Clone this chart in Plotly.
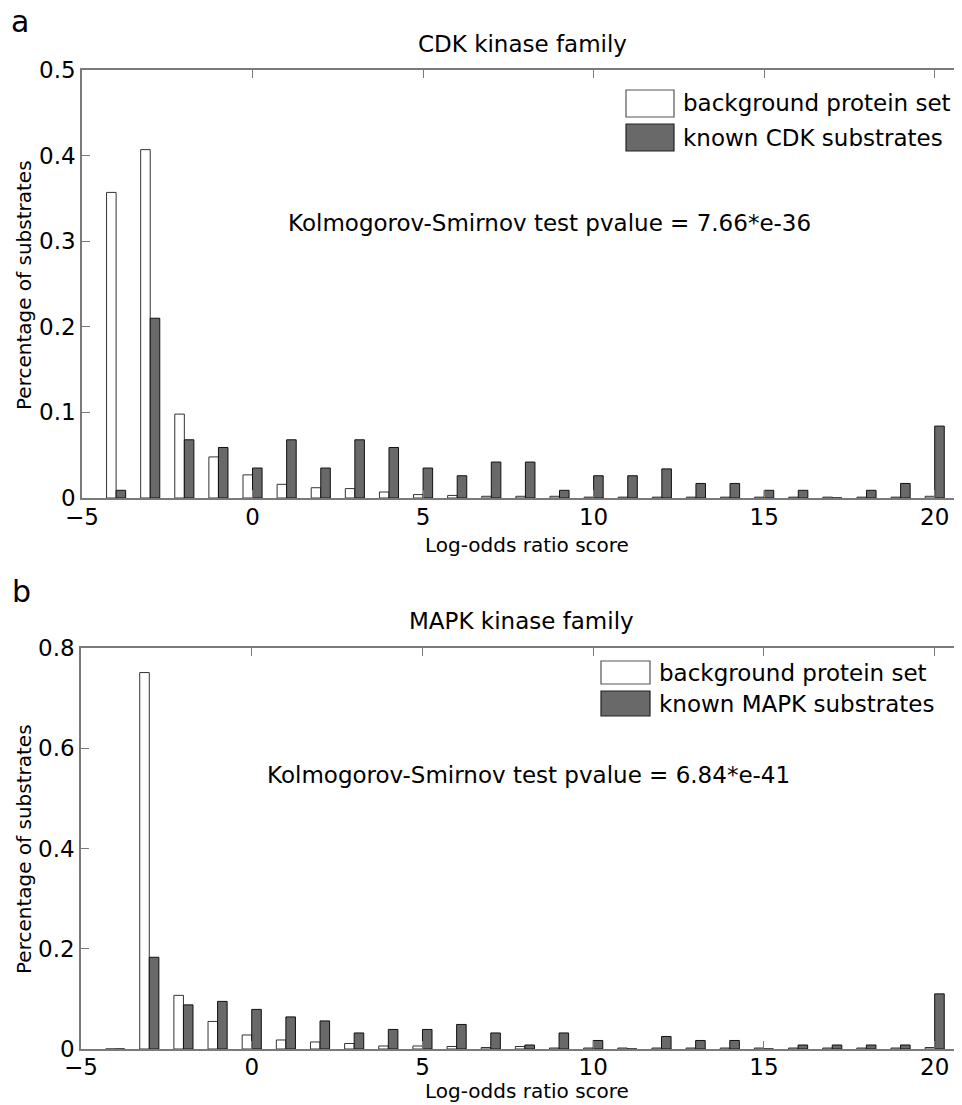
import plotly.graph_objects as go

# ---------------- data ----------------
scores = list(range(-4, 21))

cdk_background = [0.357, 0.407, 0.098, 0.048, 0.027, 0.016, 0.012, 0.011, 0.007, 0.004,
                  0.003, 0.002, 0.002, 0.002, 0.001, 0.001, 0.001, 0.001, 0.001, 0.001,
                  0.001, 0.001, 0.001, 0.001, 0.002]
cdk_known = [0.009, 0.210, 0.068, 0.059, 0.035, 0.068, 0.035, 0.068, 0.059, 0.035,
             0.026, 0.042, 0.042, 0.009, 0.026, 0.026, 0.034, 0.017, 0.017, 0.009,
             0.009, 0.0, 0.009, 0.017, 0.084]

mapk_background = [0.0, 0.751, 0.107, 0.055, 0.028, 0.018, 0.014, 0.011, 0.006, 0.006,
                   0.005, 0.003, 0.005, 0.002, 0.002, 0.002, 0.002, 0.002, 0.002, 0.002,
                   0.002, 0.002, 0.002, 0.002, 0.003]
mapk_known = [0.0, 0.183, 0.088, 0.095, 0.079, 0.064, 0.056, 0.032, 0.039, 0.039,
              0.049, 0.032, 0.008, 0.032, 0.017, 0.0, 0.025, 0.017, 0.017, 0.0,
              0.008, 0.008, 0.008, 0.008, 0.110]

x_ticks = [-5, 0, 5, 10, 15, 20]
cdk_y_ticks = [0, 0.1, 0.2, 0.3, 0.4, 0.5]
cdk_y_labels = ["0", "0.1", "0.2", "0.3", "0.4", "0.5"]
mapk_y_ticks = [0, 0.2, 0.4, 0.6, 0.8]
mapk_y_labels = ["0", "0.2", "0.4", "0.6", "0.8"]

cdk_title = "CDK kinase family"
mapk_title = "MAPK kinase family"
cdk_ks = "Kolmogorov-Smirnov test pvalue = 7.66*e-36"
mapk_ks = "Kolmogorov-Smirnov test pvalue = 6.84*e-41"
legend_bg = "background protein set"
legend_cdk = "known CDK substrates"
legend_mapk = "known MAPK substrates"
x_label = "Log-odds ratio score"
y_label = "Percentage of substrates"

# ---------------- styling / layout helpers ----------------
W, H, OFF = 954, 1097, 8
FONT = "DejaVu Sans"
DARK = "#696969"
AXC = "#7a7a7a"


def px(X):
    return (X - OFF) / W


def py(Y):
    return 1 - (Y - OFF) / H


fig = go.Figure()

fig.add_trace(go.Bar(x=scores, y=cdk_background, name=legend_bg, xaxis="x", yaxis="y",
                     marker=dict(color="white", line=dict(color="#333333", width=1)),
                     showlegend=False))
fig.add_trace(go.Bar(x=scores, y=cdk_known, name=legend_cdk, xaxis="x", yaxis="y",
                     marker=dict(color=DARK, line=dict(color="#111111", width=1)),
                     showlegend=False))
fig.add_trace(go.Bar(x=scores, y=mapk_background, name=legend_bg, xaxis="x2", yaxis="y2",
                     marker=dict(color="white", line=dict(color="#333333", width=1)),
                     showlegend=False))
fig.add_trace(go.Bar(x=scores, y=mapk_known, name=legend_mapk, xaxis="x2", yaxis="y2",
                     marker=dict(color=DARK, line=dict(color="#111111", width=1)),
                     showlegend=False))

axis_common = dict(showline=True, linecolor=AXC, linewidth=1.5, mirror="ticks",
                   ticks="inside", ticklen=8, tickcolor=AXC, tickwidth=1.2,
                   showgrid=False, zeroline=False, automargin=False,
                   tickfont=dict(family=FONT, size=23, color="black"))

fig.update_layout(
    width=W, height=H,
    margin=dict(l=0, r=0, t=0, b=0, autoexpand=False),
    paper_bgcolor="white", plot_bgcolor="white",
    barmode="group", bargap=0.44, bargroupgap=0.0,
    xaxis=dict(domain=[px(82), 1.0], range=[-5, 20.8], tickvals=x_ticks,
               anchor="y", ticklabelstandoff=-2, **axis_common),
    yaxis=dict(domain=[py(498), py(70)], range=[0, 0.5], tickvals=cdk_y_ticks,
               ticktext=cdk_y_labels, anchor="x", ticklabelstandoff=0, **axis_common),
    xaxis2=dict(domain=[px(81), 1.0], range=[-5, 20.8], tickvals=x_ticks,
                anchor="y2", ticklabelstandoff=-3, **axis_common),
    yaxis2=dict(domain=[py(1049), py(648)], range=[0, 0.8], tickvals=mapk_y_ticks,
                ticktext=mapk_y_labels, anchor="x2", ticklabelstandoff=0, **axis_common),
)


def text(X, Y, s, size, family=FONT, xanchor="center", yanchor="middle", angle=0):
    fig.add_annotation(x=px(X), y=py(Y), xref="paper", yref="paper", text=s,
                       showarrow=False, xanchor=xanchor, yanchor=yanchor, textangle=angle,
                       font=dict(family=family, size=size, color="black"))


# panel letters
text(20, 22, "a", 30)
text(21, 591, "b", 30)

# titles
text(522, 44, cdk_title, 23)
text(521, 621, mapk_title, 23)

# KS annotations
text(549, 223, cdk_ks, 23)
text(528, 775, mapk_ks, 23)

# axis labels
text(527, 545, x_label, 20)
text(527, 1091, x_label, 20)
text(24, 285, y_label, 20, angle=-90)
text(24, 849, y_label, 20, angle=-90)


# custom legends
def legend(x0, x1, rows, labels):
    fills = ["white", DARK]
    lines = ["#555555", "#222222"]
    for (y0, y1), lab, f, lc in zip(rows, labels, fills, lines):
        fig.add_shape(type="rect", xref="paper", yref="paper",
                      x0=px(x0), x1=px(x1), y0=py(y1), y1=py(y0),
                      fillcolor=f, line=dict(color=lc, width=1.2))
        text(x1 + 7, (y0 + y1) / 2, lab, 23, xanchor="left")


legend(626, 674, [(90, 117), (124, 151)], [legend_bg, legend_cdk])
legend(601, 650, [(661, 684), (691, 716)], [legend_bg, legend_mapk])

fig.write_html("out.html")
